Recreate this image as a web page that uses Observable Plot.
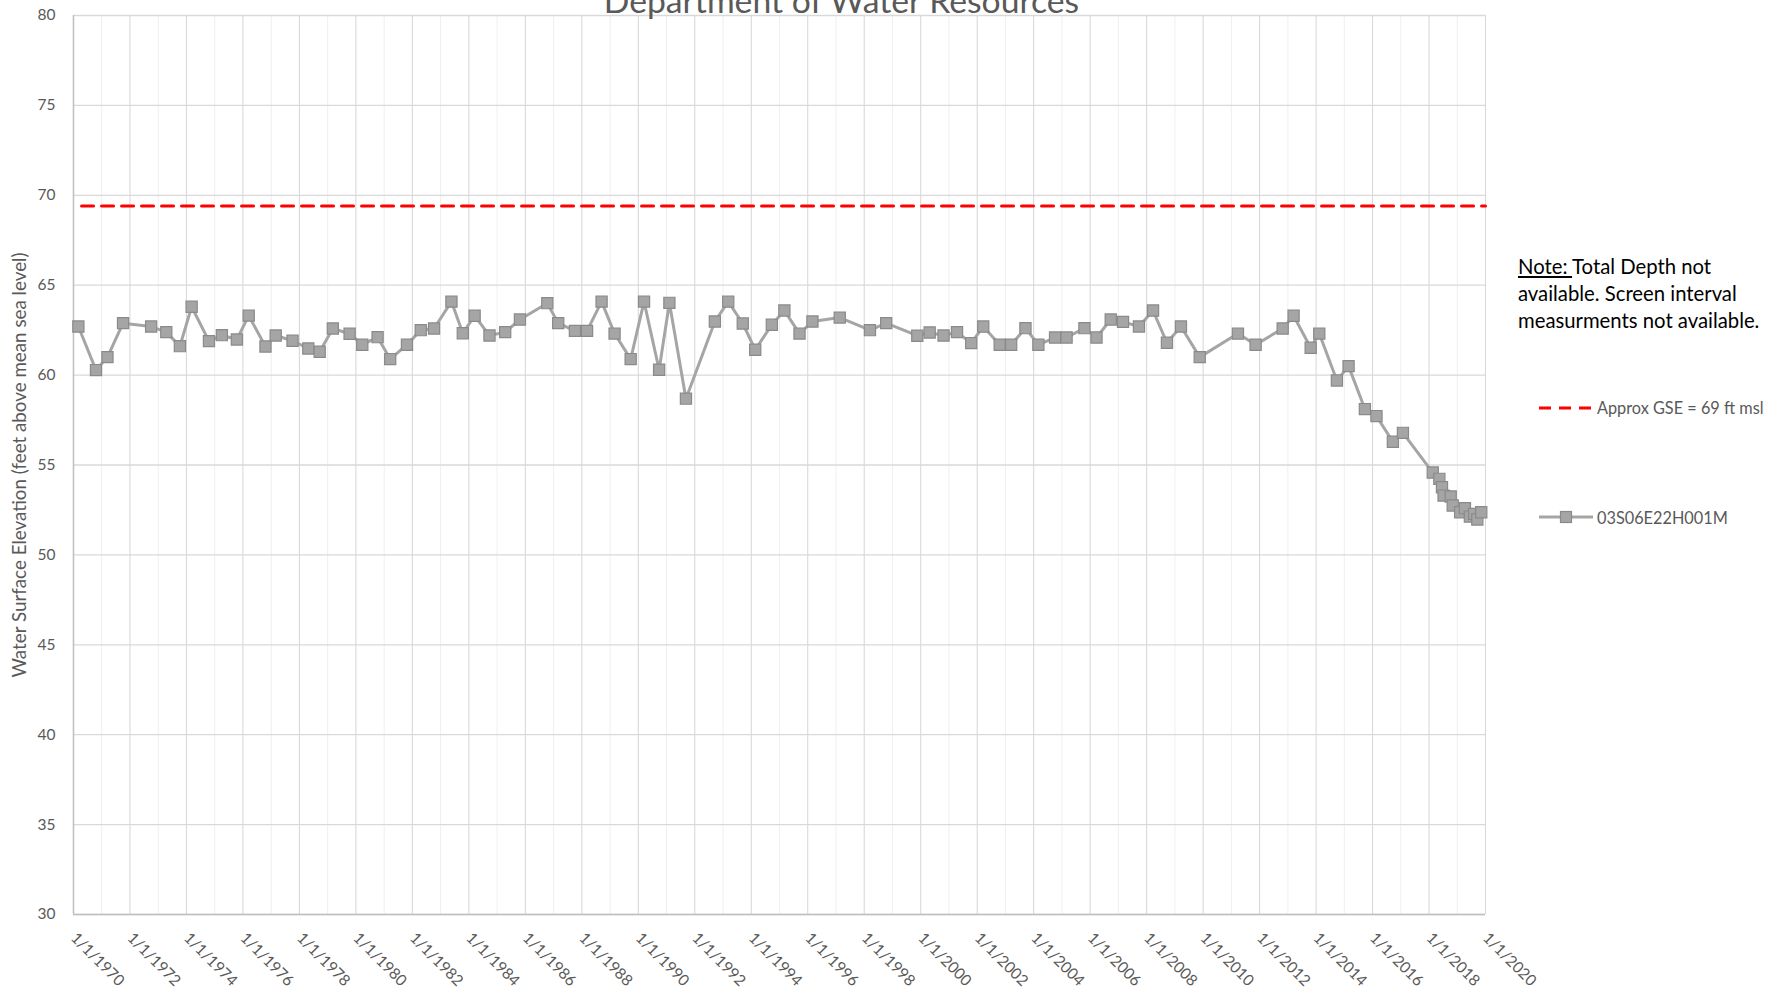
<!DOCTYPE html>
<html><head><meta charset="utf-8">
<script src="https://cdn.jsdelivr.net/npm/d3@7"></script>
<script src="https://cdn.jsdelivr.net/npm/@observablehq/plot@0.6"></script>
<style>
body{margin:0;background:#fff;font-family:Lato,sans-serif}
#wrap{position:relative;width:1790px;height:996px;overflow:hidden;background:#fff}
#note{position:absolute;left:1518px;top:253px;font-size:20.3px;line-height:27px;color:#000;white-space:nowrap}
.leg{position:absolute;left:1539px;height:20px;display:flex;align-items:center;font-size:16.3px;color:#595959;white-space:nowrap}
.leg svg{margin-right:4px;display:block}
</style></head><body><div id="wrap"></div>
<script>
const title = "Department of Water Resources";
const yLabel = "Water Surface Elevation (feet above mean sea level)";
const seriesName = "03S06E22H001M";
const gseName = "Approx GSE = 69 ft msl";

const dates = [
"1970-03-05","1970-10-19","1971-03-16","1971-10-04","1972-10-01","1973-04-15","1973-10-08","1974-03-09","1974-10-19","1975-04-04",
"1975-10-15","1976-03-16","1976-10-19","1977-02-28","1977-10-04","1978-04-26","1978-09-20","1979-03-09","1979-10-12","1980-03-24",
"1980-10-08","1981-03-20","1981-10-23","1982-04-19","1982-10-08","1983-05-21","1983-10-15","1984-03-16","1984-09-24","1985-04-15",
"1985-10-23","1986-10-12","1987-03-02","1987-10-04","1988-03-09","1988-09-13","1989-02-28","1989-09-24","1990-03-16","1990-09-27",
"1991-02-07","1991-09-09","1992-09-17","1993-03-09","1993-09-13","1994-02-21","1994-09-24","1995-03-05","1995-09-17","1996-03-02",
"1997-02-18","1998-03-16","1998-10-12","1999-11-18","2000-04-26","2000-10-23","2001-04-15","2001-10-15","2002-03-20","2002-10-19",
"2003-03-16","2003-09-17","2004-03-02","2004-10-04","2005-03-02","2005-10-19","2006-03-24","2006-09-24","2007-03-02","2007-09-24",
"2008-03-24","2008-09-20","2009-03-20","2009-11-18","2011-03-27","2011-11-11","2012-10-26","2013-03-16","2013-10-23","2014-02-11",
"2014-09-27","2015-02-25","2015-09-24","2016-02-21","2016-09-20","2017-01-28","2018-02-18","2018-05-14","2018-06-17","2018-07-08",
"2018-10-08","2018-11-03","2019-02-07","2019-04-10","2019-06-13","2019-08-07","2019-09-17","2019-11-07"
];
const values = [
62.70,60.28,61.00,62.89,62.70,62.39,61.61,63.80,61.89,62.22,
61.98,63.31,61.59,62.20,61.91,61.48,61.30,62.59,62.30,61.69,
62.11,60.89,61.69,62.50,62.59,64.09,62.33,63.30,62.20,62.39,
63.09,64.00,62.89,62.46,62.46,64.09,62.31,60.89,64.09,60.30,
64.02,58.69,62.98,64.09,62.87,61.41,62.80,63.59,62.31,62.98,
63.20,62.50,62.89,62.19,62.37,62.20,62.39,61.78,62.70,61.69,
61.69,62.61,61.69,62.09,62.09,62.61,62.09,63.09,62.96,62.70,
63.59,61.80,62.70,61.00,62.31,61.69,62.59,63.30,61.52,62.31,
59.70,60.50,58.11,57.72,56.29,56.79,54.58,54.23,53.76,53.30,
53.25,52.75,52.37,52.60,52.13,52.28,51.97,52.37
];
const gseDates = ["1970-04-15","2020-01-01"];
const gseValue = 69.4;

const xTickYears = [1970,1972,1974,1976,1978,1980,1982,1984,1986,1988,1990,1992,1994,1996,1998,2000,2002,2004,2006,2008,2010,2012,2014,2016,2018,2020];
const xMinorYears = [1971,1973,1975,1977,1979,1981,1983,1985,1987,1989,1991,1993,1995,1997,1999,2001,2003,2005,2007,2009,2011,2013,2015,2017,2019];
const yTicks = [30,35,40,45,50,55,60,65,70,75,80];

const yr = y => new Date(Date.UTC(y, 0, 1));
const data = dates.map((d, i) => ({date: new Date(d + "T00:00:00Z"), value: values[i]}));
const gse = gseDates.map(d => ({date: new Date(d + "T00:00:00Z"), value: gseValue}));
const majors = xTickYears.map(yr);
const minors = xMinorYears.map(yr);

const chart = Plot.plot({
  width: 1790, height: 996,
  marginLeft: 73, marginRight: 305, marginTop: 15, marginBottom: 82,
  style: {fontFamily: "Lato, sans-serif", background: "#fff"},
  x: {type: "utc", domain: [yr(1970), yr(2020)]},
  y: {domain: [30, 80]},
  marks: [
    Plot.ruleX(minors, {stroke: "#EFEFEF", strokeWidth: 1}),
    Plot.ruleX(majors, {stroke: "#D9D9D9", strokeWidth: 1.1}),
    Plot.ruleY(yTicks, {stroke: "#D9D9D9", strokeWidth: 1.3}),
    Plot.ruleX([yr(1970)], {stroke: "#BFBFBF", strokeWidth: 1.5}),
    Plot.ruleY([30], {stroke: "#BFBFBF", strokeWidth: 1.6}),
    Plot.axisY(yTicks, {tickSize: 0, tickPadding: 18, fontSize: 15.5, color: "#595959", label: null}),
    Plot.axisX(majors, {tickSize: 0, tickPadding: 21, tickRotate: 45, textAnchor: "start", lineAnchor: "middle",
      fontSize: 15.5, color: "#595959", label: null,
      tickFormat: d => `1/1/${d.getUTCFullYear()}`}),
    Plot.line(gse, {x: "date", y: "value", stroke: "#FF0000", strokeWidth: 3, strokeDasharray: "12,8"}),
    Plot.line(data, {x: "date", y: "value", stroke: "#A5A5A5", strokeWidth: 3}),
    Plot.dot(data, {x: "date", y: "value", symbol: "square", r: 6.3, fill: "#A5A5A5", stroke: "#8A8A8A", strokeWidth: 1.2}),
    Plot.text([title], {frameAnchor: "top", dx: 62, dy: -13.6, lineAnchor: "middle", fontSize: 33.7, fill: "#595959"}),
    Plot.text([yLabel], {frameAnchor: "left", dx: -54, rotate: -90, lineAnchor: "middle", textAnchor: "middle", fontSize: 18.8, fill: "#595959"})
  ]
});
const wrap = document.getElementById("wrap");
wrap.appendChild(chart);

const note = document.createElement("div");
note.id = "note";
note.innerHTML = "<u>Note: </u>Total Depth not<br>available. Screen interval<br>measurments not available.";
wrap.appendChild(note);

function legendRow(top, swatch, label) {
  const row = document.createElement("div");
  row.className = "leg";
  row.style.top = top + "px";
  row.innerHTML = swatch + "<span>" + label + "</span>";
  wrap.appendChild(row);
}
legendRow(397.5,
  '<svg width="54" height="20"><line x1="0" y1="10" x2="54" y2="10" stroke="#FF0000" stroke-width="3" stroke-dasharray="12,8"/></svg>',
  gseName);
legendRow(507,
  '<svg width="54" height="20"><line x1="0" y1="10" x2="54" y2="10" stroke="#A5A5A5" stroke-width="3"/><rect x="21.5" y="4.5" width="11" height="11" fill="#A5A5A5" stroke="#8A8A8A" stroke-width="1.2"/></svg>',
  seriesName);
</script>
</body></html>
